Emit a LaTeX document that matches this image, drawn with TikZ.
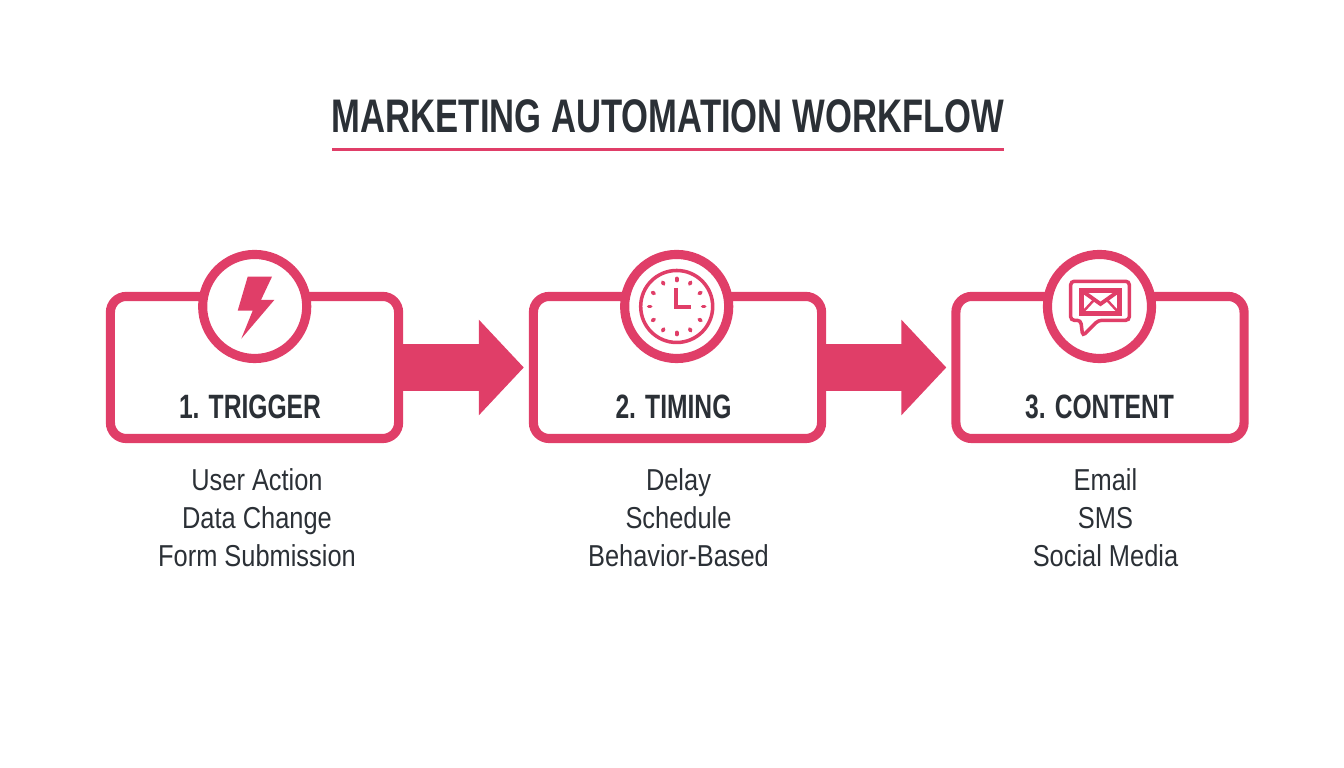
\documentclass[tikz,border=0pt]{standalone}
\usepackage{fontspec}
\usetikzlibrary{arrows.meta}
\setmainfont{Liberation Sans}
\newfontfamily\headfont[FakeStretch=0.735]{Liberation Sans}
\newfontfamily\namefont[FakeStretch=0.73]{Liberation Sans}
\newfontfamily\listfont[FakeStretch=0.84]{Liberation Sans}
\definecolor{rose}{HTML}{E03E68}
\definecolor{ink}{HTML}{2B3036}
\tikzset{
	stage/.style={draw=rose, line width=2.6pt, fill=white, rounded corners=4.5pt, minimum width=2.88cm, minimum height=1.42cm},
	badge/.style={draw=rose, line width=2.6pt, fill=white, circle, minimum size=1.04cm},
	flow/.style={rose, line width=.47cm, -{Triangle[length=.45cm,width=.93cm]}},
	stagename/.style={text=ink, inner sep=0, anchor=base, font=\namefont\bfseries\fontsize{9.6}{10}\selectfont},
	entry/.style={text=ink, inner sep=0, anchor=base, font=\listfont\fontsize{8.6}{10}\selectfont},
}
\begin{document}
\begin{tikzpicture}[x=.01cm,y=-.01cm]
	\useasboundingbox (0,0) rectangle (1344,768);

	\node[anchor=base, text=ink, inner sep=0, font=\headfont\bfseries\fontsize{13.4}{14}\selectfont] (title) at (668,133) {MARKETING AUTOMATION WORKFLOW};
	\coordinate (ruleleft) at (332,149.5);
	\coordinate (ruleright) at (1004,149.5);
	\draw[rose, line width=.9pt] (ruleleft) -- (ruleright);

	\node[stage] (trigger) at (254.5,367.5) {};
	\node[stage] (timing) at (677.5,367.5) {};
	\node[stage] (content) at (1100,367.5) {};

	\draw[flow, shorten >=.05cm] (trigger.east) -- (timing.west);
	\draw[flow, shorten >=.05cm] (timing.east) -- (content.west);

	\node[badge] (triggerbadge) at (254.7,306.5) {};
	\node[badge] (timingbadge) at (676.7,306.5) {};
	\node[badge] (contentbadge) at (1099.5,306.5) {};

	% lightning
	\fill[rose] (247.7,276.7) -- (272,276.7) -- (261,300) -- (274.3,300) -- (241.3,338.7) -- (252.7,310.7) -- (237.7,310.7) -- cycle;

	% clock
	\draw[rose, line width=1pt] (timingbadge.center) circle (36);
	\foreach \a in {0,30,...,330}
		\draw[shift={(timingbadge.center)}, rose, line width=1.05pt, line cap=round] (\a:26) -- (\a:28);
	\draw[rose, line width=1.2pt] (676.3,288) -- (676.3,306.7) -- (691,306.7);

	% message
	\draw[rose, line width=1pt, rounded corners=1pt] (1080.7,320.3) -- (1070.7,320.3) -- (1070.7,281.3) -- (1129.3,281.3) -- (1129.3,320.3) -- (1098.3,320.3) -- (1082.7,336) -- cycle;
	\draw[rose, line width=1.2pt] (1081.5,290.5) rectangle (1119.5,313.5);
	\draw[rose, line width=1.1pt] (1081.5,290.5) -- (1100.5,304) -- (1119.5,290.5);
	\draw[rose, line width=.7pt] (1081.5,313.5) -- (1094,300) (1119.5,313.5) -- (1107,300);

	\foreach \name/\x/\label in {trigger/250/1. TRIGGER, timing/673.5/2. TIMING, content/1099.5/3. CONTENT}
		\node[stagename] (\name label) at (\x,419) {\label};

	\foreach \name/\x/\one/\two/\three in {trigger/257/User Action/Data Change/Form Submission, timing/678.5/Delay/Schedule/Behavior-Based, content/1105.5/Email/SMS/Social Media} {
		\node[entry] (\name one) at (\x,491) {\one};
		\node[entry] (\name two) at (\x,529) {\two};
		\node[entry] (\name three) at (\x,567) {\three};
	}
\end{tikzpicture}
\end{document}
